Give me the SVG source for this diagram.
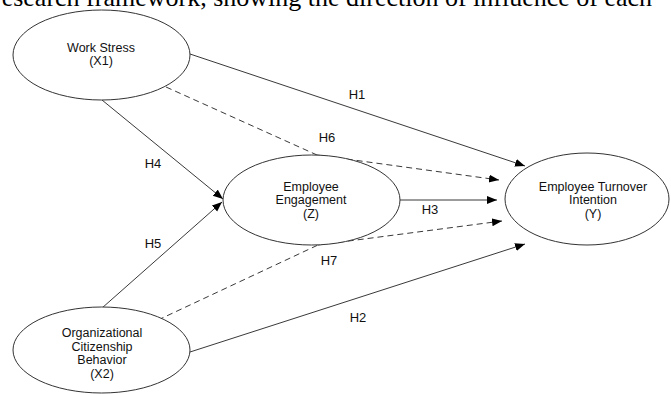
<svg xmlns="http://www.w3.org/2000/svg" width="671" height="394" viewBox="0 0 671 394">
<style>
.node ellipse{fill:#fff;stroke:#333;stroke-width:1}
.t{font-family:"Liberation Sans",Arial,sans-serif;font-size:13px;fill:#111;text-anchor:middle}
.n{font-size:12.5px}
.c{fill:none;stroke:#222;stroke-width:0.9}
.d{stroke-dasharray:6 4}
.cap{font-family:"Liberation Serif","Times New Roman",serif;font-size:26px;fill:#000}
</style>
<defs>
<marker id="ah" markerUnits="userSpaceOnUse" markerWidth="12" markerHeight="10" refX="10" refY="4" orient="auto">
<path d="M0,0 L10,4 L0,8 Z" fill="#000"/>
</marker>
</defs>
<rect width="671" height="394" fill="#fff"/>
<text class="cap" x="-7" y="6">research framework, showing the direction of influence of each</text>
<g id="connectors">
<path class="c" d="M190,54 L525,166" marker-end="url(#ah)"/>
<path class="c d" d="M166,87 L317,155"/>
<path class="c d" d="M317,155 L499,180" marker-end="url(#ah)"/>
<path class="c" d="M102,100 L223,199" marker-end="url(#ah)"/>
<path class="c" d="M102,308 L222,202" marker-end="url(#ah)"/>
<path class="c" d="M400,200 L497,200" marker-end="url(#ah)"/>
<path class="c d" d="M158,320 L318,245"/>
<path class="c d" d="M318,245 L502,221" marker-end="url(#ah)"/>
<path class="c" d="M190,352 L525,244" marker-end="url(#ah)"/>
<text class="t" x="357" y="99">H1</text>
<text class="t" x="327" y="142">H6</text>
<text class="t" x="153" y="168">H4</text>
<text class="t" x="153" y="248">H5</text>
<text class="t" x="430" y="214">H3</text>
<text class="t" x="329" y="265">H7</text>
<text class="t" x="358" y="322">H2</text>
</g>
<g id="work-stress" class="node">
<ellipse cx="101.5" cy="55" rx="88.5" ry="45"/>
<text class="t n" x="101" y="51.5">Work Stress</text>
<text class="t n" x="101" y="65">(X1)</text>
</g>
<g id="engagement" class="node">
<ellipse cx="311.5" cy="200" rx="88.5" ry="45"/>
<text class="t n" x="311" y="190.5">Employee</text>
<text class="t n" x="311" y="204">Engagement</text>
<text class="t n" x="311" y="217.5">(Z)</text>
</g>
<g id="turnover" class="node">
<ellipse cx="587" cy="199" rx="82" ry="46"/>
<text class="t n" x="593" y="190.5">Employee Turnover</text>
<text class="t n" x="593" y="204">Intention</text>
<text class="t n" x="593" y="217.5">(Y)</text>
</g>
<g id="ocb" class="node">
<ellipse cx="101.5" cy="350" rx="88.5" ry="43"/>
<text class="t n" x="102" y="337">Organizational</text>
<text class="t n" x="102" y="350.5">Citizenship</text>
<text class="t n" x="102" y="364">Behavior</text>
<text class="t n" x="102" y="377.5">(X2)</text>
</g>
</svg>
